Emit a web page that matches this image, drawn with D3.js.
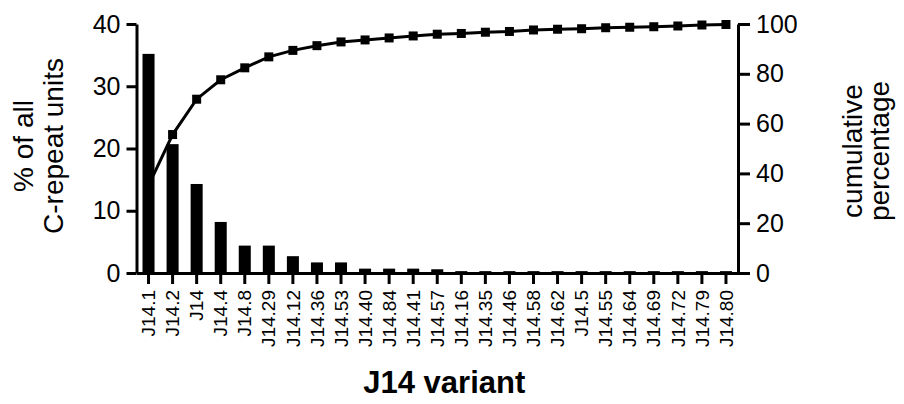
<!DOCTYPE html>
<html>
<head>
<meta charset="utf-8">
<script src="https://cdn.jsdelivr.net/npm/d3@7"></script>
<style>
  body { margin: 0; background: #fff; }
  svg text { font-family: "Liberation Sans", Arial, sans-serif; fill: #000; }
</style>
</head>
<body>
<svg></svg>
<script>
const width = 904;
const height = 404;

// J14 variants, in the order shown on the x axis
const variants = ["J14.1", "J14.2", "J14", "J14.4", "J14.8", "J14.29", "J14.12", "J14.36", "J14.53",
  "J14.40", "J14.84", "J14.41", "J14.57", "J14.16", "J14.35", "J14.46", "J14.58", "J14.62",
  "J14.5", "J14.55", "J14.64", "J14.69", "J14.72", "J14.79", "J14.80"];

// % of all C-repeat units (bars, left axis)
const percent = [35.2, 20.7, 14.3, 8.2, 4.4, 4.4, 2.7, 1.7, 1.7, 0.7, 0.7, 0.7, 0.6,
  0.3, 0.3, 0.3, 0.3, 0.3, 0.3, 0.3, 0.3, 0.3, 0.3, 0.3, 0.3];

// cumulative percentage (line, right axis)
const cumulative = [35.2, 55.6, 69.8, 77.6, 82.4, 86.8, 89.4, 91.3, 92.8, 93.6, 94.4, 95.2, 95.9,
  96.2, 96.7, 97.0, 97.6, 97.9, 98.1, 98.5, 98.7, 98.9, 99.2, 99.6, 99.8];

const leftTicks = [0, 10, 20, 30, 40];
const rightTicks = [0, 20, 40, 60, 80, 100];

const plotLeft = 136.5, plotRight = 738, plotTop = 24, plotBottom = 273;

const svg = d3.select("svg")
  .attr("width", width)
  .attr("height", height);

const x = d3.scaleBand()
  .domain(variants)
  .range([plotLeft, plotRight])
  .paddingInner(0.5)
  .paddingOuter(0.25);

const yLeft = d3.scaleLinear().domain([0, 40]).range([plotBottom, plotTop]);
const yRight = d3.scaleLinear().domain([0, 100]).range([plotBottom, plotTop]);

// bars
svg.append("g").selectAll("rect")
  .data(percent).enter().append("rect")
  .attr("x", (d, i) => x(variants[i]))
  .attr("y", d => yLeft(d))
  .attr("width", x.bandwidth())
  .attr("height", d => yLeft(0) - yLeft(d))
  .attr("fill", "#000");

// cumulative line + square markers
const line = d3.line()
  .x((d, i) => x(variants[i]) + x.bandwidth() / 2)
  .y(d => yRight(d));

svg.append("path")
  .attr("d", line(cumulative))
  .attr("fill", "none")
  .attr("stroke", "#000")
  .attr("stroke-width", 3);

const m = 9;
svg.append("g").selectAll("rect")
  .data(cumulative).enter().append("rect")
  .attr("x", (d, i) => x(variants[i]) + x.bandwidth() / 2 - m / 2)
  .attr("y", d => yRight(d) - m / 2)
  .attr("width", m)
  .attr("height", m)
  .attr("fill", "#000");

// axes
function styleAxis(g) {
  g.selectAll("path, line").attr("stroke", "#000").attr("stroke-width", 3);
}

svg.append("g")
  .attr("transform", `translate(${plotLeft},0)`)
  .call(d3.axisLeft(yLeft).tickValues(leftTicks).tickSize(10).tickSizeOuter(0).tickPadding(6))
  .call(styleAxis)
  .call(g => g.selectAll("text").attr("font-size", 25));

svg.append("g")
  .attr("transform", `translate(${plotRight},0)`)
  .call(d3.axisRight(yRight).tickValues(rightTicks).tickSize(12).tickSizeOuter(0).tickPadding(6))
  .call(styleAxis)
  .call(g => g.selectAll("text").attr("font-size", 25));

svg.append("g")
  .attr("transform", `translate(0,${plotBottom})`)
  .call(d3.axisBottom(x).tickSize(11).tickSizeOuter(0))
  .call(styleAxis)
  .call(g => g.selectAll("text")
    .attr("font-size", 19)
    .attr("text-anchor", "end")
    .attr("dy", "0.35em")
    .attr("transform", "translate(0,17) rotate(-90)")
    .attr("x", 0)
    .attr("y", 0));

svg.selectAll(".domain").attr("fill", "none");

// titles
const leftTitle = svg.append("text")
  .attr("transform", "translate(0,146) rotate(-90)")
  .attr("text-anchor", "middle")
  .attr("font-size", 28);
leftTitle.append("tspan").attr("x", 0).attr("y", 33).text("% of all");
leftTitle.append("tspan").attr("x", 0).attr("y", 63).text("C-repeat units");

const rightTitle = svg.append("text")
  .attr("transform", "translate(0,151) rotate(-90)")
  .attr("text-anchor", "middle")
  .attr("font-size", 28);
rightTitle.append("tspan").attr("x", 0).attr("y", 862).text("cumulative");
rightTitle.append("tspan").attr("x", 0).attr("y", 889).text("percentage");

svg.append("text")
  .attr("x", (plotLeft + plotRight) / 2 + 7)
  .attr("y", 393)
  .attr("text-anchor", "middle")
  .attr("font-size", 31)
  .attr("font-weight", "bold")
  .text("J14 variant");
</script>
</body>
</html>
